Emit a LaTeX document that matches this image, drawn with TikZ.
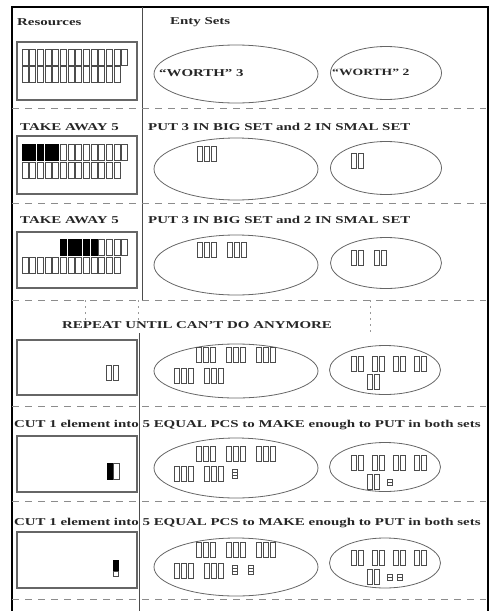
\documentclass[tikz,border=0pt]{standalone}
\usepackage{fontspec}
\setmainfont{Liberation Serif}[FakeStretch=1.42]
\usetikzlibrary{shapes.geometric, positioning}
\tikzstyle{frame} = [line width=1.4pt, draw=black]
\tikzstyle{divider} = [line width=0.9pt, draw=black!70]
\tikzstyle{sep} = [line width=0.8pt, draw=black!45, dash pattern=on 7pt off 6pt]
\tikzstyle{hint} = [line width=0.6pt, draw=black!40, dash pattern=on 2pt off 4pt]
\tikzstyle{heading} = [font=\bfseries\fontsize{10.5}{12}\selectfont, inner sep=0pt, anchor=west, text=black!85]
\tikzstyle{resbox} = [rectangle, draw=black!60, line width=1.3pt, minimum width=120pt, inner sep=0pt]
\tikzstyle{bigset} = [ellipse, draw=black!60, line width=0.8pt, minimum width=164pt, inner sep=0pt]
\tikzstyle{smallset} = [ellipse, draw=black!60, line width=0.8pt, minimum width=111pt, inner sep=0pt]
\tikzstyle{tile} = [draw=black!70, line width=0.6pt, fill=white]
\tikzstyle{taken} = [draw=black, line width=0.4pt, fill=black]
% rows of resource elements and set elements
\newcommand{\restiles}[4][tile]{\foreach \k in {1,...,#4} \draw[#1] ({#2+(\k-1)*7.65},#3) rectangle +(6,16);}
\newcommand{\settiles}[3]{\foreach \k in {1,...,#3} \draw[tile] ({#1+(\k-1)*7},#2) rectangle +(5.6,15);}
\newcommand{\piece}[3]{\foreach \k in {1,...,#3} \draw[tile] (#1,{#2+(\k-1)*3}) rectangle +(5,3);}

\begin{document}
\begin{tikzpicture}[x=1pt, y=-1pt]
\useasboundingbox (0,0) rectangle (489,611);

% frame and dividers
\draw[frame] (12,611) -- (12,7) -- (488,7) -- (488,611);
\draw[divider] (142,7) -- (142,300);
\draw[divider] (139,333) -- (139,611);
\foreach \y in {108,203,300,406,501,599}
  \draw[sep] (12,\y) -- (486,\y);
\draw[hint] (85,300) -- (85,320);
\draw[hint] (138,300) -- (138,322);
\draw[hint] (370,300) -- (370,335);

% headings
\node (reshead) [heading] at (17,22) {Resources};
\node (sethead) [heading] at (170,22) {Enty Sets};
\node (take1) [heading] at (20,127) {TAKE AWAY 5};
\node (put1) [heading] at (148,127) {PUT 3 IN BIG SET and 2 IN SMAL SET};
\node (take2) [heading] at (20,220) {TAKE AWAY 5};
\node (put2) [heading] at (148,220) {PUT 3 IN BIG SET and 2 IN SMAL SET};
\node (repeat) [heading] at (62,325) {REPEAT UNTIL CAN'T DO ANYMORE};
\node (cut1) [heading] at (14,425) {CUT 1 element into 5 EQUAL PCS to MAKE enough to PUT in both sets};
\node (cut2) [heading] at (14,523) {CUT 1 element into 5 EQUAL PCS to MAKE enough to PUT in both sets};

% resource boxes
\node (res1) [resbox, minimum height=58pt] at (77,71) {};
\node (res2) [resbox, minimum height=58pt] at (77,165) {};
\node (res3) [resbox, minimum height=56pt] at (77,260) {};
\node (res4) [resbox, minimum height=55pt] at (77,367.5) {};
\node (res5) [resbox, minimum height=56pt] at (77,464) {};
\node (res6) [resbox, minimum height=56pt] at (77,560) {};

% entity sets
\node (big1) [bigset, minimum height=58pt] at (236,74) {};
\node (small1) [smallset, minimum height=53pt] at (386,73) {};
\node (big2) [bigset, minimum height=62pt] at (236,169) {};
\node (small2) [smallset, minimum height=53pt] at (386,168) {};
\node (big3) [bigset, minimum height=60pt] at (236,265) {};
\node (small3) [smallset, minimum height=51pt] at (386,263) {};
\node (big4) [bigset, minimum height=54pt] at (236,371) {};
\node (small4) [smallset, minimum height=49pt] at (385,370) {};
\node (big5) [bigset, minimum height=60pt] at (236,468) {};
\node (small5) [smallset, minimum height=49pt] at (385,467) {};
\node (big6) [bigset, minimum height=58pt] at (236,567) {};
\node (small6) [smallset, minimum height=50pt] at (385,563) {};
\node (worth3) [heading] at (159,73) {``WORTH'' 3};
\node (worth2) [heading, font=\bfseries\fontsize{9.6}{11}\selectfont] at (332,72) {``WORTH'' 2};

% row 1
\restiles{22}{49}{14}
\restiles{22}{66}{13}
% row 2
\restiles[taken]{22}{144}{5}
\restiles{60.25}{144}{9}
\restiles{22}{162}{13}
\settiles{197}{146}{3}
\settiles{351}{153}{2}
% row 3
\restiles[taken]{60.25}{239}{5}
\restiles{98.5}{239}{4}
\restiles{22}{257}{13}
\settiles{197}{242}{3} \settiles{227}{242}{3}
\settiles{351}{250}{2} \settiles{374}{250}{2}
% row 4
\settiles{106}{365}{2}
\foreach \x in {196,226,256} \settiles{\x}{347}{3};
\foreach \x in {174,204} \settiles{\x}{368}{3};
\foreach \x in {351,372,393,414} \settiles{\x}{356}{2};
\settiles{367}{374}{2}
% row 5
\draw[taken] (107,463) rectangle +(5,16);
\draw[tile] (113,463) rectangle +(6,16);
\foreach \x in {196,226,256} \settiles{\x}{446}{3};
\foreach \x in {174,204} \settiles{\x}{466}{3};
\piece{232}{469}{3}
\foreach \x in {351,372,393,414} \settiles{\x}{455}{2};
\settiles{367}{474}{2}
\piece{387}{479}{2}
% row 6
\draw[taken] (113,560) rectangle +(5,11);
\draw[tile] (113,571) rectangle +(5,5);
\foreach \x in {196,226,256} \settiles{\x}{542}{3};
\foreach \x in {174,204} \settiles{\x}{563}{3};
\piece{232}{565}{3}
\piece{248}{565}{3}
\foreach \x in {351,372,393,414} \settiles{\x}{550}{2};
\settiles{367}{569}{2}
\piece{387}{574}{2}
\piece{397}{574}{2}

\end{tikzpicture}
\end{document}
